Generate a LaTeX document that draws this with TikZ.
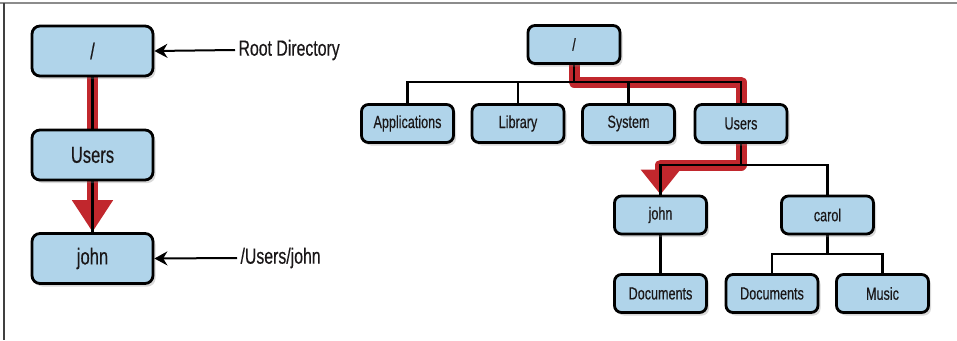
\documentclass[tikz,border=0pt]{standalone}
\usepackage{fontspec}
\setmainfont[FakeStretch=0.72, FakeBold=0.4]{Liberation Sans}
\usepackage{xcolor}
\usepackage{tikz}
\usetikzlibrary{arrows.meta, shadows, backgrounds}
\definecolor{dirblue}{HTML}{B0D4EA}
\definecolor{pathred}{HTML}{C1272D}
\definecolor{ink}{HTML}{1A1718}
\tikzstyle{dirbox} = [draw=black, line width=2.8pt, fill=dirblue, rounded corners=8pt, text=ink,
  drop shadow={shadow xshift=2.5pt, shadow yshift=-3pt, opacity=0.3}]
\tikzstyle{bigbox} = [dirbox, minimum width=121pt, minimum height=50pt, font=\fontsize{23}{23}\selectfont]
\tikzstyle{smallbox} = [dirbox, rounded corners=7pt, minimum width=92pt, minimum height=38pt, font=\fontsize{17.5}{17.5}\selectfont]
\tikzstyle{link} = [line width=2.2pt, black]
\tikzstyle{hilite} = [line width=11pt, pathred, line join=round]
\tikzstyle{arrow} = [line width=2pt, -{Stealth[length=13pt, width=14pt]}]
\newcommand{\lbl}[1]{{\fontsize{22}{22}\selectfont\color{ink} #1}}

\begin{document}
\begin{tikzpicture}[x=1pt, y=-1pt]
  \useasboundingbox (0,0) rectangle (957,340);
  \draw[line width=1.5pt, black!45] (0,3) -- (957,3);
  \draw[line width=1.5pt, black!75] (4,3) -- (4,340);
  % left panel
  \node[bigbox] (root) at (92.5,51) {/};
  \node[bigbox] (users) at (92.5,155) {Users};
  \node[bigbox] (john) at (92.5,258.5) {john};
  \node[anchor=west] (rootlbl) at (235,50) {\lbl{Root Directory}};
  \node[anchor=west] (johnlbl) at (237,258) {\lbl{/Users/john}};
  \draw[arrow] (rootlbl.west) -- (root.east);
  \draw[arrow] (johnlbl.west) -- (john.east);
  % right panel
  \node[smallbox] (troot) at (574,44.5) {/};
  \node[smallbox] (apps) at (407.5,123.5) {Applications};
  \node[smallbox] (lib) at (518,123.5) {Library};
  \node[smallbox] (sys) at (628.5,123.5) {System};
  \node[smallbox] (usr) at (741,123.5) {Users};
  \node[smallbox] (tjohn) at (660.5,215) {john};
  \node[smallbox] (carol) at (827.5,215) {carol};
  \node[smallbox] (jdocs) at (660.5,293.5) {Documents};
  \node[smallbox] (cdocs) at (772,293.5) {Documents};
  \node[smallbox] (music) at (882.5,293.5) {Music};
  \coordinate (bus1) at (0,82);
  \coordinate (bus2) at (0,165);
  \coordinate (bus3) at (0,254);
  \begin{scope}[on background layer]
    \draw[hilite, -{Triangle[width=39pt, length=32pt]}] (root.south) -- (john.north);
    \draw[link] (root.south) -- (john.north);
    \draw[hilite] (troot.south) |- (usr.north |- bus1) -- (usr.north);
    \draw[hilite, -{Triangle[width=38pt, length=25pt]}] (usr.south) |- (tjohn.north |- bus2) -- (tjohn.north);
    \draw[link] (troot.south) -- (troot.south |- bus1);
    \draw[link] (apps.north) |- (usr.north |- bus1) -- (usr.north);
    \foreach \n in {lib,sys}
      \draw[link] (\n.north) -- (\n.north |- bus1);
    \draw[link] (usr.south) -- (usr.south |- bus2);
    \draw[link] (tjohn.north) |- (carol.north |- bus2) -- (carol.north);
    \draw[link] (tjohn.south) -- (jdocs.north);
    \draw[link] (carol.south) -- (carol.south |- bus3);
    \draw[link] (cdocs.north) |- (music.north |- bus3) -- (music.north);
  \end{scope}
\end{tikzpicture}
\end{document}
